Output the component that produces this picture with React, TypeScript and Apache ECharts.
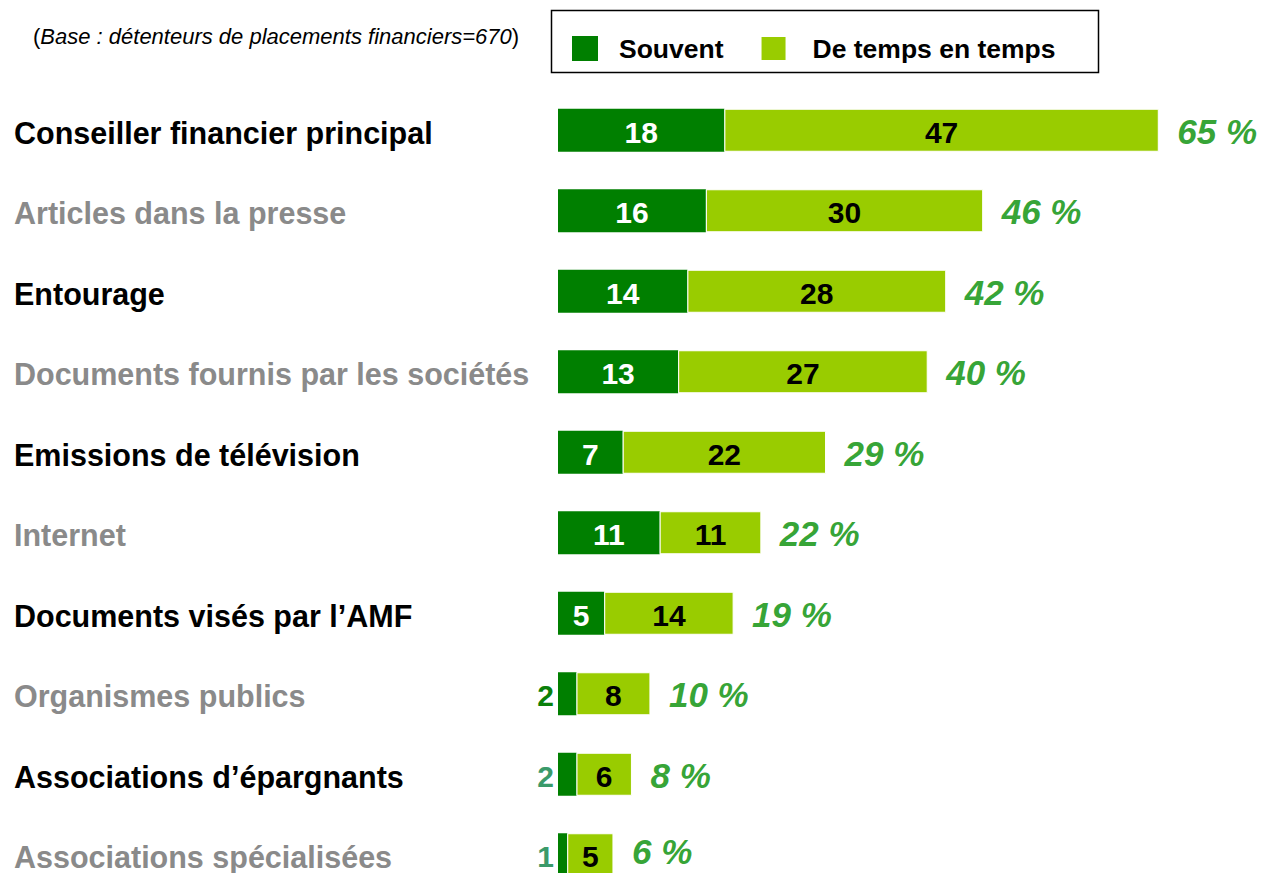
import React, { useEffect, useRef } from "react";
import * as echarts from "echarts";

const categories = [
  "Conseiller financier principal",
  "Articles dans la presse",
  "Entourage",
  "Documents fournis par les sociétés",
  "Emissions de télévision",
  "Internet",
  "Documents visés par l’AMF",
  "Organismes publics",
  "Associations d’épargnants",
  "Associations spécialisées",
];
const souvent = [18, 16, 14, 13, 7, 11, 5, 2, 2, 1];
const deTempsEnTemps = [47, 30, 28, 27, 22, 11, 14, 8, 6, 5];
const totals = [65, 46, 42, 40, 29, 22, 19, 10, 8, 6];
const seriesNames = ["Souvent", "De temps en temps"];
const baseNote = "Base : détenteurs de placements financiers=670";

const FONT = "'Liberation Sans', Arial, sans-serif";
const DARK = "#007f00";
const LIGHT = "#99cc00";
const TOTAL_COLOR = "#008c00";

export default function App() {
  const ref = useRef<HTMLDivElement>(null);
  useEffect(() => {
    if (!ref.current) return;
    const chart = echarts.init(ref.current, null, { renderer: "svg" });
    const last = totals.length - 1;
    chart.setOption({
      animation: false,
      textStyle: { fontFamily: FONT },
      grid: { left: 558, top: 90, width: 647, height: 805, containLabel: false },
      xAxis: { type: "value", min: 0, max: 70, show: false },
      yAxis: {
        type: "category",
        inverse: true,
        data: categories,
        axisLine: { show: false },
        axisTick: { show: false },
        splitLine: { show: false },
        axisLabel: {
          align: "left",
          margin: 544,
          formatter: (v: string, i: number) => (i % 2 === 0 ? `{b|${v}}` : `{g|${v}}`),
          rich: {
            b: { color: "#000", fontSize: 30.5, fontWeight: "bold", fontFamily: FONT, padding: [5, 0, 0, 0] },
            g: { color: "#8a8a8a", fontSize: 30.5, fontWeight: "bold", fontFamily: FONT, padding: [5, 0, 0, 0] },
          },
        },
      },
      legend: {
        left: 572,
        top: 35,
        padding: 0,
        icon: "rect",
        itemWidth: 26,
        itemHeight: 25,
        itemGap: 36,
        data: [
          { name: seriesNames[0], textStyle: { padding: [0, 0, 0, 16] } },
          { name: seriesNames[1], textStyle: { padding: [0, 0, 0, 21] } },
        ],
        textStyle: {
          fontSize: 26.5,
          fontWeight: "bold",
          color: "#000",
          fontFamily: FONT,
        },
      },
      graphic: [
        {
          type: "rect",
          shape: { x: 551.5, y: 10.5, width: 547, height: 62 },
          style: { fill: "none", stroke: "#000", lineWidth: 1.5 },
        },
        {
          type: "text",
          x: 33,
          y: 36,
          style: {
            text: `{n|(}{i|${baseNote}}{n|)}`,
            verticalAlign: "middle",
            rich: {
              n: { fontSize: 22, fontFamily: FONT, fill: "#000" },
              i: { fontSize: 22, fontFamily: FONT, fontStyle: "italic", fill: "#000" },
            },
          },
        },
      ],
      series: [
        {
          name: seriesNames[0],
          type: "bar",
          stack: "s",
          barWidth: 43,
          itemStyle: { color: DARK },
          data: souvent.map((v, i) =>
            v < 3
              ? {
                  value: v,
                  label: {
                    position: "left",
                    distance: 4,
                    color: i === 7 ? "#0a800a" : "#3a9a6a",
                  },
                }
              : v
          ),
          label: {
            show: true,
            position: "inside",
            offset: [0, 2],
            color: "#fff",
            fontSize: 30,
            fontWeight: "bold",
            fontFamily: FONT,
          },
        },
        {
          name: seriesNames[1],
          type: "bar",
          stack: "s",
          barWidth: 43,
          itemStyle: { color: LIGHT, borderColor: "#fff", borderWidth: 1 },
          data: deTempsEnTemps,
          label: {
            show: true,
            position: "inside",
            offset: [0, 2],
            color: "#000",
            fontSize: 30,
            fontWeight: "bold",
            fontFamily: FONT,
          },
        },
        {
          type: "scatter",
          symbolSize: 1,
          itemStyle: { color: "rgba(0,0,0,0)" },
          data: totals.map((t, i) =>
            i === last ? { value: [t, i], label: { offset: [0, -3] } } : [t, i]
          ),
          label: {
            show: true,
            position: "right",
            distance: 18,
            offset: [0, 1],
            formatter: (p: any) => `${p.value[0]} %`,
            color: TOTAL_COLOR,
            fontSize: 35,
            fontWeight: "bold",
            fontStyle: "italic",
            fontFamily: FONT,
          },
          silent: true,
        },
      ],
    });
    return () => chart.dispose();
  }, []);
  return (
    <div
      style={{
        position: "absolute",
        left: 0,
        top: 0,
        width: 1269,
        height: 873,
        overflow: "hidden",
      }}
    >
      <div ref={ref} style={{ width: 1269, height: 900 }} />
    </div>
  );
}
